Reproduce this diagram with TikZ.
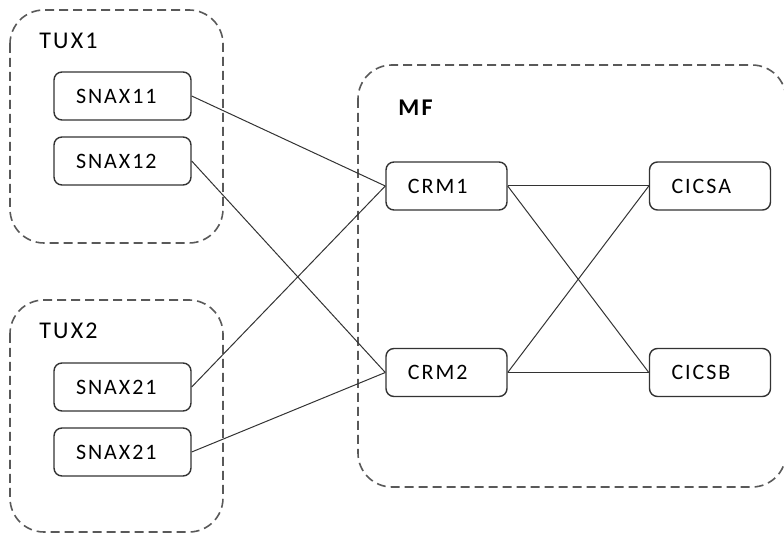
\documentclass[tikz,border=0pt]{standalone}
\usepackage{fontspec}
\setmainfont{Carlito}[LetterSpace=9]
\begin{document}
\begin{tikzpicture}[x=0.5pt, y=-0.5pt,
    group/.style={draw=black!65, dash pattern=on 4.5pt off 2.5pt, line width=0.8pt, rounded corners=17pt},
    unit/.style={draw=black!80, line width=0.7pt, rounded corners=4pt, minimum height=24pt,
        inner xsep=11pt, align=left, font=\fontsize{11}{13}\selectfont},
    link/.style={draw=black!80, line width=0.5pt},
    title/.style={anchor=west, inner sep=0pt, font=\fontsize{12}{14}\selectfont}]
    \useasboundingbox (0,0) rectangle (784,534);

    % Groups
    \draw[group] (10,10) rectangle (223,243);
    \draw[group] (10,300) rectangle (223,532);
    \draw[group] (358,65) rectangle (786,487);
    \node[title] (tux1) at (39,41) {TUX1};
    \node[title] (tux2) at (39,331) {TUX2};
    \node[title, font=\fontsize{12}{14}\selectfont\bfseries] (mf) at (398,108) {MF};

    % Units
    \node[unit, text width=46.5pt] (snax11) at (122.5,96) {SNAX11};
    \node[unit, text width=46.5pt] (snax12) at (122.5,161) {SNAX12};
    \node[unit, text width=46.5pt] (snax21a) at (122.5,387) {SNAX21};
    \node[unit, text width=46.5pt] (snax21b) at (122.5,452) {SNAX21};
    \node[unit, text width=38.5pt] (crm1) at (446.5,186) {CRM1};
    \node[unit, text width=38.5pt] (crm2) at (446.5,372.5) {CRM2};
    \node[unit, text width=38.5pt] (cicsa) at (710,186) {CICSA};
    \node[unit, text width=38.5pt] (cicsb) at (710,372.5) {CICSB};

    % Links
    \draw[link] (snax11.east) -- (crm1.west);
    \draw[link] (snax12.east) -- (crm2.west);
    \draw[link] (snax21a.east) -- (crm1.west);
    \draw[link] (snax21b.east) -- (crm2.west);
    \foreach \c in {crm1,crm2} {
        \draw[link] (\c.east) -- (cicsa.west);
        \draw[link] (\c.east) -- (cicsb.west);
    }
\end{tikzpicture}
\end{document}
